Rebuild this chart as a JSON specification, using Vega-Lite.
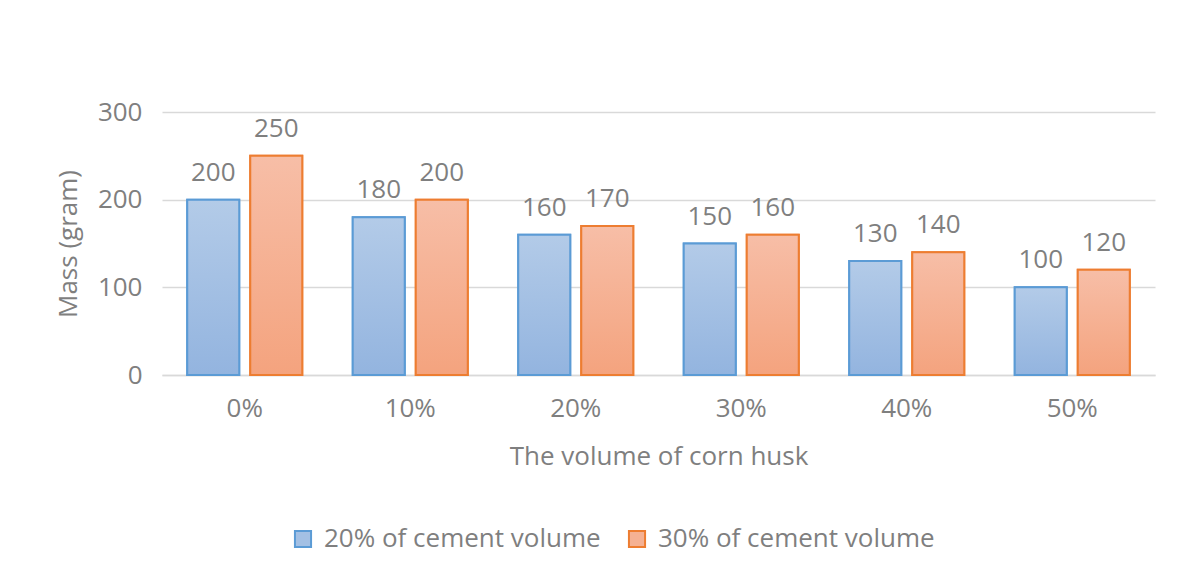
{
  "$schema": "https://vega.github.io/schema/vega-lite/v6.json",
  "width": 993,
  "height": 263,
  "autosize": {"type": "none"},
  "padding": {"left": 162, "top": 112, "right": 25, "bottom": 205},
  "background": "white",
  "config": {"view": {"stroke": null}, "font": "Open Sans"},
  "data": {
    "values": [
      {"husk": "0%", "series": "20% of cement volume", "mass": 200},
      {"husk": "0%", "series": "30% of cement volume", "mass": 250},
      {"husk": "10%", "series": "20% of cement volume", "mass": 180},
      {"husk": "10%", "series": "30% of cement volume", "mass": 200},
      {"husk": "20%", "series": "20% of cement volume", "mass": 160},
      {"husk": "20%", "series": "30% of cement volume", "mass": 170},
      {"husk": "30%", "series": "20% of cement volume", "mass": 150},
      {"husk": "30%", "series": "30% of cement volume", "mass": 160},
      {"husk": "40%", "series": "20% of cement volume", "mass": 130},
      {"husk": "40%", "series": "30% of cement volume", "mass": 140},
      {"husk": "50%", "series": "20% of cement volume", "mass": 100},
      {"husk": "50%", "series": "30% of cement volume", "mass": 120}
    ]
  },
  "encoding": {
    "x": {
      "field": "husk", "type": "nominal",
      "sort": ["0%", "10%", "20%", "30%", "40%", "50%"],
      "scale": {"paddingInner": 0.305, "paddingOuter": 0.1525},
      "axis": {
        "labelAngle": 0, "labelFontSize": 26, "labelColor": "#7f7f7f", "labelPadding": 20,
        "ticks": false, "domainColor": "#d9d9d9", "domainWidth": 1.5,
        "title": "The volume of corn husk", "titleFontSize": 26, "titleFontWeight": "normal",
        "titleColor": "#7f7f7f", "titlePadding": 22
      }
    },
    "xOffset": {"field": "series", "type": "nominal", "sort": ["20% of cement volume", "30% of cement volume"], "scale": {"paddingInner": 0.175}},
    "y": {
      "field": "mass", "type": "quantitative",
      "scale": {"domain": [0, 300]},
      "axis": {
        "values": [0, 100, 200, 300], "domain": false, "ticks": false,
        "gridColor": "#d9d9d9", "gridWidth": 1.5,
        "labelFontSize": 26, "labelColor": "#7f7f7f", "labelPadding": 20,
        "title": "Mass (gram)", "titleFontSize": 26, "titleFontWeight": "normal",
        "titleColor": "#7f7f7f", "titlePadding": 16
      }
    }
  },
  "layer": [
    {
      "mark": {"type": "bar", "strokeWidth": 2},
      "encoding": {
        "fill": {
          "field": "series", "type": "nominal",
          "scale": {"domain": ["20% of cement volume", "30% of cement volume"], "range": ["#a3c0e4", "#f5b193"]},
          "legend": {
            "orient": "none", "legendX": 128, "legendY": 414, "direction": "horizontal",
            "title": null, "symbolType": "square", "symbolSize": 260, "symbolStrokeWidth": 2,
            "labelFontSize": 26, "labelColor": "#7f7f7f", "labelLimit": 0, "columnPadding": 23, "labelOffset": 8
          }
        },
        "stroke": {
          "field": "series", "type": "nominal",
          "scale": {"domain": ["20% of cement volume", "30% of cement volume"], "range": ["#5b9bd5", "#ed7d31"]}
        }
      }
    },
    {
      "transform": [{"filter": "datum.series === '20% of cement volume'"}],
      "mark": {
        "type": "bar", "strokeWidth": 2, "stroke": "#5b9bd5",
        "fill": {"gradient": "linear", "x1": 0, "y1": 0, "x2": 0, "y2": 1, "stops": [{"offset": 0, "color": "#b3cbe8"}, {"offset": 1, "color": "#93b4df"}]}
      },
      "encoding": {}
    },
    {
      "transform": [{"filter": "datum.series === '30% of cement volume'"}],
      "mark": {
        "type": "bar", "strokeWidth": 2, "stroke": "#ed7d31",
        "fill": {"gradient": "linear", "x1": 0, "y1": 0, "x2": 0, "y2": 1, "stops": [{"offset": 0, "color": "#f7bea7"}, {"offset": 1, "color": "#f4a37e"}]}
      },
      "encoding": {}
    },
    {
      "mark": {"type": "text", "baseline": "bottom", "dy": -14, "fontSize": 26, "color": "#7f7f7f"},
      "encoding": {"text": {"field": "mass", "type": "quantitative"}}
    }
  ]
}
